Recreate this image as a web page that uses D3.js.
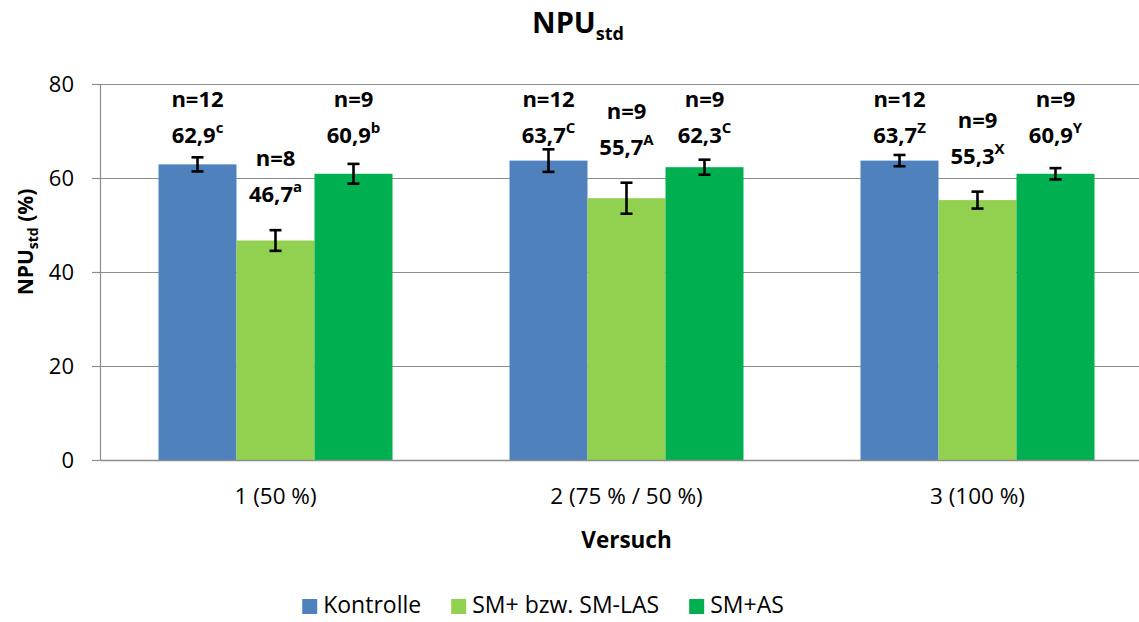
<!DOCTYPE html>
<html>
<head>
<meta charset="utf-8">
<script src="https://cdn.jsdelivr.net/npm/d3@7"></script>
<style>
    body { margin: 0; background: #fff; }
    svg { font-family: "Open Sans", sans-serif; display: block; }
</style>
</head>
<body>
<div id="container"></div>
<script>
const width = 1139,
    height = 622,
    margin = { top: 84, bottom: 162, left: 100, right: -14 };

// data
const categories = ["1 (50 %)", "2 (75 % / 50 %)", "3 (100 %)"];
const series = ["Kontrolle", "SM+ bzw. SM-LAS", "SM+AS"];
const kontrolle = [62.9, 63.7, 63.7];
const smLas = [46.7, 55.7, 55.3];
const smAs = [60.9, 62.3, 60.9];
const kontrolleSd = [1.5, 2.4, 1.2];
const smLasSd = [2.2, 3.3, 1.8];
const smAsSd = [2.1, 1.6, 1.2];
const kontrolleN = [12, 12, 12];
const smLasN = [8, 9, 9];
const smAsN = [9, 9, 9];
const kontrolleSig = ["c", "C", "Z"];
const smLasSig = ["a", "A", "X"];
const smAsSig = ["b", "C", "Y"];
const yTicks = [0, 20, 40, 60, 80];

const colors = ["#4F81BD", "#92D050", "#00B050"];

// long format table
const values = [kontrolle, smLas, smAs],
    sds = [kontrolleSd, smLasSd, smAsSd],
    ns = [kontrolleN, smLasN, smAsN],
    sigs = [kontrolleSig, smLasSig, smAsSig];
const data = [];
categories.forEach((c, i) => {
    series.forEach((s, j) => {
        data.push({ cat: c, ser: s, value: values[j][i], sd: sds[j][i], n: ns[j][i], sig: sigs[j][i] });
    });
});

/**SCALES*/
const xScale = d3.scaleBand()
    .domain(categories)
    .range([margin.left, width - margin.right]);

const xInner = d3.scaleBand()
    .domain(series)
    .range([0, xScale.bandwidth()])
    .paddingOuter(0.75);

const yScale = d3.scaleLinear()
    .domain([0, 80])
    .range([height - margin.bottom, margin.top]);

const colorScale = d3.scaleOrdinal().domain(series).range(colors);

const svg = d3.select("#container")
    .append("svg")
    .attr("width", width)
    .attr("height", height);

// gridlines
svg.append("g")
    .selectAll("line")
    .data(yTicks.filter(d => d > 0))
    .join("line")
    .attr("x1", margin.left)
    .attr("x2", width - margin.right)
    .attr("y1", d => Math.round(yScale(d)) + 0.5)
    .attr("y2", d => Math.round(yScale(d)) + 0.5)
    .attr("stroke", "#8c8c8c")
    .attr("stroke-width", 1.2);

// bars
svg.append("g")
    .selectAll("rect")
    .data(data)
    .join("rect")
    .attr("x", d => xScale(d.cat) + xInner(d.ser))
    .attr("y", d => yScale(d.value))
    .attr("width", xInner.bandwidth())
    .attr("height", d => yScale(0) - yScale(d.value))
    .attr("fill", d => colorScale(d.ser));

// Y AXIS
const yAxis = d3.axisLeft(yScale).tickValues(yTicks).tickSize(8).tickPadding(18).tickSizeOuter(0);
const gy = svg.append("g")
    .attr("transform", `translate(${margin.left},0)`)
    .call(yAxis);
gy.select(".domain").attr("stroke", "#8c8c8c").attr("stroke-width", 1.2);
gy.selectAll(".tick line").attr("stroke", "#8c8c8c").attr("stroke-width", 1.2);
gy.selectAll(".tick text").attr("font-size", 22).attr("fill", "#000").attr("font-family", "Open Sans");

// X AXIS
const xAxis = d3.axisBottom(xScale).tickSize(0).tickPadding(28).tickSizeOuter(0);
const gx = svg.append("g")
    .attr("transform", `translate(0,${yScale(0)})`)
    .call(xAxis);
gx.select(".domain").attr("stroke", "#8c8c8c").attr("stroke-width", 1.5);
gx.selectAll(".tick text").attr("font-size", 22.5).attr("fill", "#000").attr("font-family", "Open Sans");

// error bars
const cx = d => xScale(d.cat) + xInner(d.ser) + xInner.bandwidth() / 2;
const err = svg.append("g").attr("stroke", "#000").attr("stroke-width", 2.6);
err.selectAll(".stem")
    .data(data)
    .join("line")
    .attr("x1", cx).attr("x2", cx)
    .attr("y1", d => yScale(d.value + d.sd))
    .attr("y2", d => yScale(d.value - d.sd));
err.selectAll(".capTop")
    .data(data)
    .join("line")
    .attr("x1", d => cx(d) - 6).attr("x2", d => cx(d) + 6)
    .attr("y1", d => yScale(d.value + d.sd))
    .attr("y2", d => yScale(d.value + d.sd));
err.selectAll(".capBottom")
    .data(data)
    .join("line")
    .attr("x1", d => cx(d) - 6).attr("x2", d => cx(d) + 6)
    .attr("y1", d => yScale(d.value - d.sd))
    .attr("y2", d => yScale(d.value - d.sd));

// labels: n and mean with significance letter
const fmt = v => d3.format(".1f")(v).replace(".", ",");
const labelBase = d => Math.max(yScale(d.value + d.sd) - 28, 143);

svg.append("g")
    .selectAll("text")
    .data(data)
    .join("text")
    .attr("x", cx)
    .attr("y", d => labelBase(d) - 36)
    .attr("text-anchor", "middle")
    .attr("font-size", 22)
    .attr("font-weight", "bold")
    .text(d => "n=" + d.n);

const valLabels = svg.append("g")
    .selectAll("text")
    .data(data)
    .join("text")
    .attr("x", cx)
    .attr("y", labelBase)
    .attr("text-anchor", "middle")
    .attr("font-size", 22)
    .attr("font-weight", "bold");
valLabels.append("tspan").text(d => fmt(d.value));
valLabels.append("tspan")
    .attr("font-size", 15)
    .attr("dy", -10)
    .text(d => d.sig);

// title
const title = svg.append("text")
    .attr("x", 578)
    .attr("y", 33)
    .attr("text-anchor", "middle")
    .attr("font-size", 29)
    .attr("font-weight", "bold");
title.append("tspan").text("NPU");
title.append("tspan").attr("font-size", 18).attr("dy", 7).text("std");

// y axis title
const yTitle = svg.append("text")
    .attr("transform", "translate(33,242) rotate(-90)")
    .attr("text-anchor", "middle")
    .attr("font-size", 21)
    .attr("font-weight", "bold");
yTitle.append("tspan").text("NPU");
yTitle.append("tspan").attr("font-size", 14).attr("dy", 5).text("std");
yTitle.append("tspan").attr("dy", -5).text(" (%)");

// x axis title
svg.append("text")
    .attr("x", xScale(categories[1]) + xScale.bandwidth() / 2)
    .attr("y", 548)
    .attr("text-anchor", "middle")
    .attr("font-size", 22.5)
    .attr("font-weight", "bold")
    .text("Versuch");

// legend (kept just inside the bottom edge)
const legend = svg.append("g");
const items = legend.selectAll("g")
    .data(series)
    .join("g");
items.append("rect")
    .attr("width", 15)
    .attr("height", 15)
    .attr("y", 599)
    .attr("fill", d => colorScale(d));
items.append("text")
    .attr("x", 21)
    .attr("y", 613)
    .attr("font-size", 23)
    .text(d => d);

let pos = 0;
const offsets = [];
items.each(function () {
    offsets.push(pos);
    pos += 21 + this.querySelector("text").getComputedTextLength() + 30;
});
const total = pos - 30;
const start = 543 - total / 2;
items.attr("transform", (d, i) => `translate(${start + offsets[i]},0)`);
</script>
</body>
</html>
